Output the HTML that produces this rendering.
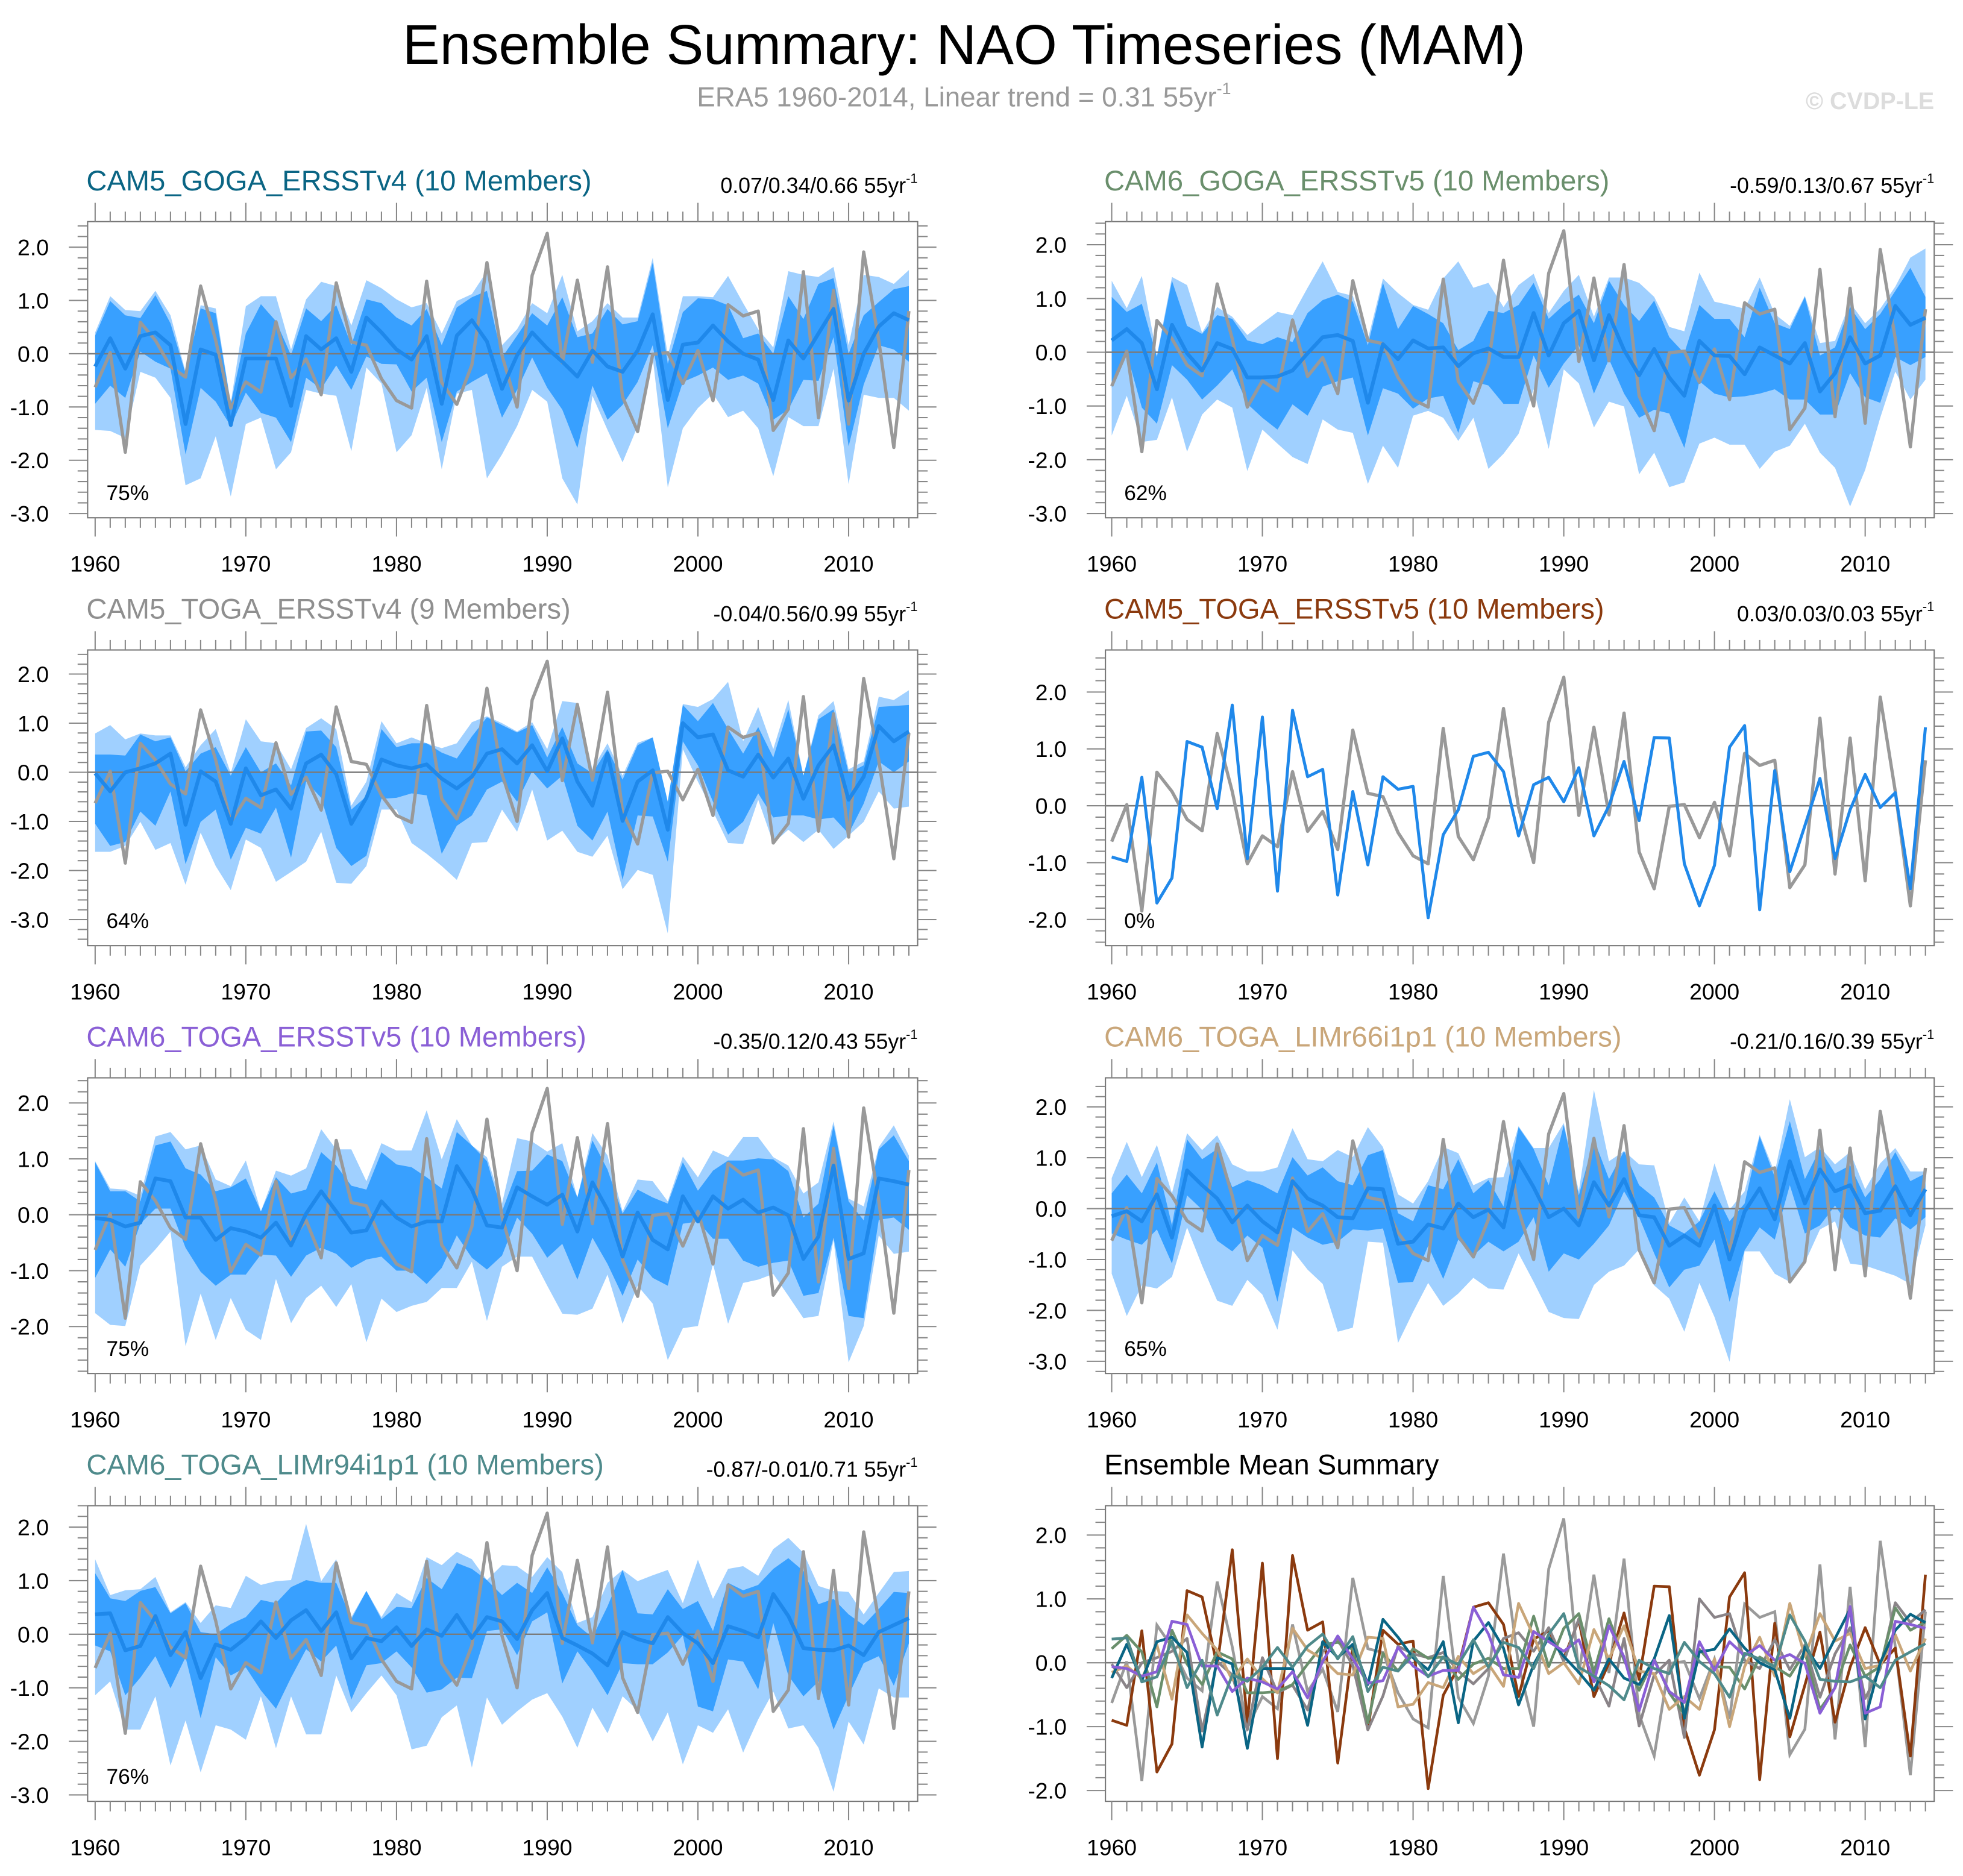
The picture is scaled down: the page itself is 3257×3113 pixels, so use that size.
<!DOCTYPE html>
<html><head><meta charset="utf-8">
<style>
html,body{margin:0;padding:0;background:#fff;}
svg{display:block;font-family:"Liberation Sans",Arial,sans-serif;}
</style></head>
<body>
<svg id="fig" xmlns="http://www.w3.org/2000/svg" width="3257" height="3113" viewBox="0 0 1568 1498.6">
<rect x="0" y="0" width="1568" height="1498.6" fill="#fff"/>
<text x="770" y="51" font-size="44.6" text-anchor="middle" fill="#000">Ensemble Summary: NAO Timeseries (MAM)</text>
<text x="770" y="85" font-size="22" text-anchor="middle" fill="#999">ERA5 1960-2014, Linear trend = 0.31 55yr<tspan dy="-10" font-size="13">-1</tspan></text>
<text x="1545" y="87" font-size="19" font-weight="bold" text-anchor="end" fill="#dcdcdc">© CVDP-LE</text>
</svg>
<script>
const years = []; for (let y = 1960; y <= 2014; y++) years.push(y);
const xTickLabels = ["1960","1970","1980","1990","2000","2010"];
const obs = [-0.63,0.02,-1.85,0.59,0.25,-0.24,-0.44,1.27,0.25,-1.02,-0.53,-0.72,0.6,-0.45,-0.1,-0.77,1.33,0.22,0.16,-0.47,-0.88,-1.02,1.36,-0.54,-0.95,-0.21,1.71,-0.03,-1.0,1.47,2.26,-0.17,1.38,-0.16,1.63,-0.81,-1.46,-0.01,0.02,-0.56,0.06,-0.88,0.92,0.71,0.8,-1.44,-1.04,1.54,-1.2,1.19,-1.32,1.91,0.25,-1.76,0.8];

const p1Lt = [0.4,1.08,0.82,0.8,1.18,0.72,-0.34,0.91,0.85,-0.92,0.89,1.08,1.08,0.08,1.02,1.35,1.27,0.53,1.38,1.23,1.02,0.87,0.95,0.38,0.99,1.12,1.55,0.16,0.46,0.95,0.76,1.48,0.42,0.61,0.95,0.68,0.68,1.8,-0.03,1.08,1.08,1.06,1.46,0.95,0.46,0.12,1.55,1.48,1.44,1.63,0.16,1.48,1.44,1.31,1.57];
const p1Dt = [0.34,0.99,0.72,0.67,1.1,0.57,-0.37,0.85,0.76,-0.94,0.38,0.93,0.61,-0.03,0.85,0.61,0.91,0.16,1.02,0.95,0.68,0.53,0.84,0.16,0.87,1.06,1.18,-0.07,0.34,0.76,0.53,1.06,0.31,0.38,0.84,0.55,0.61,1.71,-0.19,0.78,1.04,1.02,0.91,0.29,0.38,0,1.08,0.65,1.31,1.42,0,0.72,0.97,1.21,1.27];
const p1Mean = [-0.24,0.29,-0.28,0.33,0.4,0.16,-1.32,0.08,-0.02,-1.34,-0.09,-0.09,-0.09,-0.98,0.33,0.08,0.29,-0.34,0.68,0.4,0.08,-0.11,0.33,-0.94,0.34,0.63,0.23,-0.66,-0.03,0.4,0.1,-0.15,-0.43,0.06,-0.24,-0.34,0.06,0.74,-0.87,0.17,0.21,0.53,0.23,0,-0.11,-0.87,0.25,-0.09,0.38,0.84,-0.88,0,0.51,0.76,0.63];
const p1Db = [-0.94,-0.6,-0.83,0.04,-0.15,-0.28,-1.89,-0.64,-0.9,-1.36,-0.73,-1.11,-1.2,-1.66,-0.45,-0.66,-0.22,-0.68,-0.05,-0.19,-0.2,-0.71,-0.45,-1.66,-0.71,-0.53,-0.37,-1.2,-0.68,-0.07,-0.64,-1.05,-1.77,-0.6,-1.24,-0.96,-0.53,0.16,-1.4,-0.53,-0.41,-0.26,-0.49,-0.41,-0.56,-1.24,-1.05,-0.49,-0.51,0.31,-1.74,-0.58,0.16,0.08,-0.15];
const p1Lb = [-1.43,-1.45,-1.58,-0.34,-0.45,-0.83,-2.47,-2.34,-1.55,-2.68,-1.32,-1.2,-2.17,-1.85,-0.68,-0.75,-0.79,-1.83,-0.26,-0.56,-1.85,-1.53,-0.64,-2.17,-0.75,-0.68,-2.34,-1.89,-1.36,-0.68,-0.9,-2.34,-2.83,-0.79,-1.43,-2.04,-1.36,-0.07,-2.51,-1.4,-1.02,-0.75,-1.19,-1.07,-1.4,-2.3,-1.19,-1.36,-1.36,-0.28,-2.45,-0.77,-0.83,-0.83,-1.07];

const p2Lt = [1.33,0.82,1.42,-0.06,1.4,1.25,0.36,0.84,0.66,0.32,0.54,0.75,0.69,1.2,1.69,1.12,1.05,0.24,1.37,1.1,0.88,0.79,1.37,1.69,1.2,1.29,0.84,1.25,1.46,0.73,1.14,1.44,0.66,1.39,1.39,1.29,1.03,0.47,0.39,1.48,0.94,0.88,0.81,1.39,0.71,0.49,1.05,0.17,0.21,0.92,0.54,0.81,1.22,1.76,1.93];
const p2Dt = [1.03,0.75,0.9,-0.09,1.33,0.49,0.34,0.69,0.62,0.22,0.15,0.28,0.19,0.73,0.97,1.07,0.94,0.13,1.29,0.43,0.86,0.71,0.54,0.04,0.21,0.77,0.73,0.88,1.29,0.62,0.88,1.07,0.54,1.33,0.88,0.58,0.96,0.28,-0.02,0.88,0.62,0.62,0.28,1.2,0.54,0.43,1.03,-0.06,0.09,0.84,0.43,0.71,1.14,1.57,1.03];
const p2Mean = [0.22,0.43,0.17,-0.69,0.51,-0.02,-0.34,0.17,0.06,-0.47,-0.47,-0.45,-0.34,-0.02,0.28,0.32,0.21,-0.94,0.15,-0.13,0.22,0.07,0.09,-0.26,-0.02,0.07,-0.09,-0.09,0.73,-0.06,0.54,0.77,-0.15,0.69,0.04,-0.43,0.06,-0.47,-0.81,0.21,-0.06,-0.07,-0.41,0.09,-0.06,-0.21,0.17,-0.73,-0.39,0.28,-0.21,-0.06,0.86,0.51,0.64];
const p2Db = [-0.66,-0.02,-1.03,-1.33,-0.24,-0.51,-0.88,-0.62,-0.32,-0.96,-1.22,-1.44,-0.97,-1.18,-0.64,-0.54,-0.47,-1.55,-0.67,-0.77,-1.05,-0.86,-0.81,-1.5,-0.54,-0.62,-0.96,-0.96,-0.06,-0.66,-0.21,0.13,-0.77,-0.13,-0.77,-1.22,-1.07,-1.14,-1.78,-0.54,-0.77,-0.84,-0.82,-0.77,-0.69,-0.88,-0.88,-1.16,-1.16,-0.39,-0.84,-0.94,-0.09,-0.24,-0.09];
const p2Lb = [-1.55,-0.81,-1.67,-1.63,-0.84,-1.85,-1.16,-0.88,-1.03,-2.21,-1.44,-1.7,-1.95,-2.08,-1.25,-1.44,-1.5,-2.45,-1.74,-2.15,-1.18,-1.09,-1.22,-1.65,-1.22,-2.17,-1.89,-1.52,-0.69,-1.8,-0.32,-0.58,-1.4,-0.92,-1.01,-2.27,-1.87,-2.51,-2.42,-1.7,-1.59,-1.72,-1.72,-2.17,-1.85,-1.74,-1.33,-1.87,-2.15,-2.87,-2.19,-1.22,-0.36,-0.88,-0.51];

const p3Lt = [0.79,0.96,0.67,0.79,0.75,0.75,0.1,0.55,0.88,-0.02,1.08,0.63,0.59,0.06,0.9,1.1,0.88,-0.68,-0.19,1.04,0.59,0.71,0.59,0.49,0.59,1.02,1.14,1.0,0.83,1.02,0.47,1.45,1.41,0.06,0.59,-0.07,0.6,0.71,-0.6,1.39,1.33,1.49,1.84,0.63,1.33,0.47,1.47,-0.07,1.16,1.45,0.06,0.22,1.54,1.47,1.67];
const p3Dt = [0.36,0.36,0.34,0.77,0.63,0.71,0.02,0.38,0.51,-0.07,0.51,0,0.18,-0.27,0.83,0.85,0.51,-0.76,-0.49,0.88,0.51,0.59,0.59,0.4,0.28,0.73,1.12,0.96,0.81,0.96,0.3,0.92,0.18,-0.02,0.47,-0.15,0.55,0.71,-0.6,1.37,1.04,1.41,0.88,0.38,0.92,0.3,1.28,-0.07,1.08,1.28,-0.02,0.14,1.33,1.35,1.37];
const p3Mean = [-0.02,-0.39,0,0.08,0.18,0.38,-1.07,0.02,-0.19,-1.05,0.08,-0.47,-0.35,-0.74,0.18,0.36,-0.04,-1.05,-0.52,0.26,0.14,0.08,0.16,-0.13,-0.33,-0.09,0.38,0.47,0.18,0.55,0.02,0.69,-0.19,-0.68,0.38,-0.99,-0.19,0.04,-1.17,1.0,0.71,0.77,0.04,-0.09,0.36,-0.11,0.28,-0.54,0.14,0.55,-0.56,-0.09,0.94,0.63,0.83];
const p3Db = [-1.05,-1.5,-1.42,-0.8,-1.09,-0.39,-1.87,-1.01,-0.76,-1.78,-1.13,-1.25,-0.72,-1.74,-0.19,-0.52,-1.54,-1.91,-1.7,-0.54,-0.52,-0.43,-0.47,-1.66,-1.09,-0.88,-0.35,-0.19,-0.6,0.02,-0.33,-0.07,-1.09,-1.39,-0.8,-2.19,-0.88,-0.9,-1.82,0.63,0.14,-0.6,-1.27,-1.01,-0.43,-0.92,-0.88,-0.88,-0.96,-0.92,-1.25,-0.64,0.22,0,0.22];
const p3Lb = [-1.62,-1.62,-1.5,-1.01,-1.58,-1.44,-2.29,-1.23,-1.91,-2.4,-1.37,-1.54,-2.23,-2.03,-1.82,-1.21,-2.25,-2.27,-1.91,-0.76,-0.76,-1.44,-1.66,-1.91,-2.19,-1.44,-1.42,-0.76,-1.21,-0.35,-1.39,-1.19,-1.62,-1.72,-1.29,-2.38,-1.99,-2.09,-3.28,0.47,-0.19,-0.8,-1.44,-1.46,-0.56,-1.44,-1.17,-1.42,-1.17,-1.56,-1.29,-1.01,-0.39,-0.74,-0.7];

const p4Mean = [-0.9,-0.98,0.5,-1.71,-1.27,1.13,1.03,-0.05,1.77,-0.93,1.56,-1.5,1.68,0.51,0.64,-1.57,0.25,-1.04,0.51,0.29,0.34,-1.97,-0.51,-0.07,0.87,0.94,0.6,-0.53,0.37,0.5,0.07,0.67,-0.53,0,0.78,-0.26,1.2,1.19,-1.02,-1.76,-1.05,1.03,1.41,-1.83,0.62,-1.16,-0.35,0.48,-0.93,-0.07,0.55,-0.03,0.23,-1.46,1.38];

const p5Lt = [0.96,0.47,0.45,0.34,1.4,1.48,1.17,1.24,0.63,0.51,0.97,0.06,0.79,0.7,0.83,1.53,1.17,1.17,0.6,1.28,1.15,1.15,1.87,0.99,1.71,1.24,1.03,0.2,1.37,1.31,1.13,1.28,0.31,1.46,1.06,0.06,0.63,0.6,0.24,1.04,0.67,1.15,1.03,1.39,1.39,1.03,0.88,0.38,0.58,1.67,0.29,0.15,1.21,1.6,1.06];
const p5Dt = [0.94,0.42,0.42,0.24,1.24,1.31,0.83,0.72,0.42,0.49,0.65,0.06,0.67,0.38,0.45,1.12,0.88,0.52,0.45,1.12,0.9,0.85,0.67,0.47,1.48,1.24,0.96,0.06,0.78,0.79,1.08,0.96,0.31,1.33,0.81,0.02,0.45,0.31,0.2,0.94,0.43,0.79,0.97,0.97,1.01,0.99,0.78,-0.05,0.2,1.6,0.24,-0.1,1.17,1.42,0.96];
const p5Mean = [-0.06,-0.09,-0.21,-0.14,0.65,0.6,-0.05,-0.05,-0.45,-0.24,-0.3,-0.41,-0.14,-0.55,0.02,0.42,0.06,-0.32,-0.28,0.24,-0.05,-0.21,-0.12,-0.12,0.87,0.45,-0.19,-0.23,0.49,0.33,0.18,0.36,-0.3,0.58,0.09,-0.75,0.04,-0.45,-0.62,0.33,-0.12,0.33,0.11,0.27,0.04,0.13,-0.01,-0.79,-0.39,0.88,-0.79,-0.69,0.65,0.6,0.54];
const p5Db = [-1.13,-0.62,-0.93,-0.16,0.11,0.11,-0.59,-1.02,-1.27,-1.07,-1.07,-0.71,-0.73,-1.11,-0.73,-0.59,-0.7,-0.95,-0.8,-0.75,-1.0,-1.0,-1.24,-0.95,-0.37,-0.77,-0.98,-0.73,-0.05,-0.34,-0.77,-0.52,-1.16,-0.41,-0.88,-1.45,-0.8,-1.13,-1.27,-0.16,-0.12,-0.43,-0.43,-0.82,-0.93,-0.86,-0.82,-1.45,-1.4,-0.41,-1.81,-1.85,-0.09,-0.05,-0.27];
const p5Lb = [-1.76,-1.97,-1.99,-0.91,-0.62,-0.3,-2.35,-1.41,-2.24,-1.49,-2.06,-2.24,-1.15,-1.94,-1.49,-1.27,-1.65,-1.24,-2.28,-1.5,-1.74,-1.63,-1.56,-1.31,-1.31,-0.84,-1.9,-0.93,-0.75,-0.75,-1.27,-1.77,-1.79,-1.68,-1.07,-1.95,-1.27,-1.59,-2.6,-2.03,-1.99,-0.88,-1.95,-1.22,-1.16,-1.06,-1.45,-1.85,-1.81,-0.45,-2.64,-1.99,-0.37,-0.7,-0.66];

const p6Lt = [0.6,1.31,0.62,1.25,0.3,1.48,1.15,1.44,0.87,0.73,0.73,0.81,1.58,0.97,0.93,1.15,1.01,1.6,1.21,0.28,0.1,0.54,1.21,1.09,0.46,0.6,0.62,1.62,1.19,1.19,1.68,0.34,2.33,0.93,1.13,0.87,0.85,-0.29,0.22,-0.25,0.89,-0.02,0.34,1.45,0.71,2.15,1.01,1.21,0.87,1.11,0.38,0.89,1.19,0.73,0.73];
const p6Dt = [0.3,0.67,0.3,0.91,-0.33,1.36,0.97,1.17,0.42,0.56,0.46,0.3,1.01,0.65,0.81,0.54,0.46,1.05,1.15,-0.09,-0.25,0.46,0.38,0.97,0.3,0.56,0.04,1.6,1.17,0.46,1.64,0.26,1.36,0.58,1.13,0.46,0.22,-0.33,-0.49,-0.25,0.34,-0.25,0.1,1.42,0.62,1.72,0.58,1.17,0.69,0.85,0.22,0.58,1.11,0.54,0.69];
const p6Mean = [-0.15,-0.05,-0.25,0.28,-0.57,0.75,0.46,0.2,-0.27,0.06,-0.25,-0.47,0.54,0.2,0.06,-0.17,-0.19,0.4,0.38,-0.69,-0.65,-0.31,-0.39,0.1,-0.17,-0.02,-0.37,0.93,0.42,-0.17,0,-0.33,0.52,0.06,0.58,-0.13,-0.17,-0.73,-0.53,-0.73,0.06,-1.0,-0.06,0.4,-0.21,0.93,0.1,0.77,0.34,0.46,-0.09,-0.04,0.44,-0.13,0.38];
const p6Db = [-0.49,-0.61,-0.71,-0.41,-1.08,0.26,-0.02,-0.63,-0.84,-0.53,-0.77,-1.83,-0.37,-0.57,-0.71,-0.65,-0.41,-0.43,-0.39,-1.46,-1.44,-0.73,-1.38,-0.61,-0.92,-0.65,-0.84,-0.65,-0.17,-1.24,-0.88,-1.0,-0.69,-0.33,0.34,-0.17,-0.88,-1.55,-1.2,-1.12,-0.61,-1.83,-0.82,-0.37,-0.61,0.46,-0.49,-0.33,0.06,-0.37,-0.53,-0.57,-0.19,-0.41,-0.17];
const p6Lb = [-1.28,-2.11,-1.51,-1.57,-1.34,-0.37,-1.12,-1.81,-1.91,-1.4,-1.69,-2.38,-0.82,-1.2,-1.48,-2.42,-2.34,-0.65,-0.67,-2.64,-2.03,-1.46,-1.91,-1.67,-1.36,-1.57,-1.59,-0.88,-1.44,-2.03,-2.15,-2.17,-1.5,-1.24,-1.12,-0.8,-1.51,-1.77,-2.42,-1.46,-2.13,-3.01,-0.84,-0.84,-1.28,-1.44,-1.06,-0.41,-0.25,-1.08,-1.12,-1.22,-1.32,-1.48,-0.33];

const p7Lt = [1.4,0.73,0.82,0.84,1.07,0.41,0.6,0.21,0.54,0.49,1.09,0.92,0.99,1.01,2.06,0.99,1.4,0.32,0.81,0.32,0.77,0.6,1.44,1.29,1.54,1.4,1.01,1.29,1.27,1.07,1.44,1.16,0.21,0.32,0.96,1.2,0.99,1.1,1.2,0.58,1.39,0.66,1.22,1.27,1.09,1.59,1.8,1.52,0.9,0.81,0.79,0.37,0.77,1.16,1.18];
const p7Dt = [1.14,0.67,0.62,0.81,0.88,0.39,0.58,0.04,0,0.19,0.32,0.64,0.58,0.88,1.01,0.96,0.96,0.28,0.81,0.28,0.51,0.49,1.05,0.84,1.33,1.22,1.01,0.73,0.96,0.77,1.25,0.77,0.17,-0.06,0.52,1.2,0.39,0.37,0.84,0.47,0.62,0.06,0.96,0.82,0.92,1.22,1.42,1.18,0.56,0.66,0.37,0.17,0.47,0.79,0.77];
const p7Mean = [0.37,0.39,-0.3,-0.22,0.34,-0.39,0.04,-0.82,-0.19,-0.29,-0.07,0.24,-0.07,0.26,0.45,0.06,0.41,-0.45,-0.07,-0.13,0.13,-0.22,0.09,-0.03,0.36,-0.07,0.32,0.24,-0.09,0.45,0.77,-0.07,-0.21,-0.36,-0.58,0.04,-0.09,-0.17,0.32,0.02,-0.17,-0.54,0.15,0.06,-0.06,0.75,0.34,-0.26,-0.29,-0.3,-0.21,-0.39,0.04,0.17,0.3];
const p7Db = [-0.21,-0.32,-1.14,-0.81,-0.41,-1.01,-0.43,-1.57,-0.43,-0.77,-0.62,-1.05,-1.39,-0.81,-0.28,-0.51,-0.21,-1.22,-0.58,-0.54,-0.32,-0.62,-1.09,-1.03,-0.81,-0.82,0.06,0.09,-0.39,0.24,0.41,-0.92,-0.32,-0.69,-1.14,-0.54,-0.56,-0.56,-0.34,-0.02,-1.35,-1.44,-0.47,-0.51,-1.03,0.21,-0.77,-1.16,-0.88,-1.78,-1.14,-0.54,-0.41,-0.96,-0.17];
const p7Lb = [-1.14,-0.88,-1.78,-1.78,-1.16,-2.45,-1.61,-2.58,-1.7,-1.78,-1.97,-1.16,-2.13,-1.16,-1.87,-1.87,-0.77,-1.46,-1.1,-0.77,-1.14,-2.15,-2.08,-1.55,-1.33,-2.49,-1.18,-1.69,-1.44,-1.22,-1.1,-1.54,-2.12,-1.37,-1.85,-1.16,-1.42,-2.0,-1.46,-2.43,-1.7,-1.84,-1.4,-2.21,-1.59,-1.07,-1.76,-1.7,-2.12,-2.94,-1.63,-2.06,-1.01,-1.18,-1.18];

const panelTitles = ["CAM5_GOGA_ERSSTv4 (10 Members)","CAM6_GOGA_ERSSTv5 (10 Members)","CAM5_TOGA_ERSSTv4 (9 Members)","CAM5_TOGA_ERSSTv5 (10 Members)","CAM6_TOGA_ERSSTv5 (10 Members)","CAM6_TOGA_LIMr66i1p1 (10 Members)","CAM6_TOGA_LIMr94i1p1 (10 Members)","Ensemble Mean Summary"];
const panelColors = ["#0a6584","#6a8f6c","#8f8f8f","#8b3a0e","#8a5fd6","#c9a679","#4e8a8b","#000000"];
const trendLabels = ["0.07/0.34/0.66","-0.59/0.13/0.67","-0.04/0.56/0.99","0.03/0.03/0.03","-0.35/0.12/0.43","-0.21/0.16/0.39","-0.87/-0.01/0.71",""];
const pctLabels = ["75%","62%","64%","0%","75%","65%","76%",""];
const yTickLabels = [
 ["2.0","1.0","0.0","-1.0","-2.0","-3.0"],["2.0","1.0","0.0","-1.0","-2.0","-3.0"],
 ["2.0","1.0","0.0","-1.0","-2.0","-3.0"],["2.0","1.0","0.0","-1.0","-2.0"],
 ["2.0","1.0","0.0","-1.0","-2.0"],["2.0","1.0","0.0","-1.0","-2.0","-3.0"],
 ["2.0","1.0","0.0","-1.0","-2.0","-3.0"],["2.0","1.0","0.0","-1.0","-2.0"]];
const yMax = [2.48,2.43,2.49,2.74,2.45,2.57,2.4,2.46];
const yMin = [-3.08,-3.08,-3.53,-2.46,-2.84,-3.24,-3.12,-2.17];

const NS = "http://www.w3.org/2000/svg";
const svg = document.getElementById("fig");
const cols = [{x0:70,x1:733,t0:76,t1:726},{x0:883,x1:1545,t0:888,t1:1538}];
const rows = [[177,413.6],[519.2,755.4],[861,1097.2],[1202.8,1439]];
function mk(tag, attrs, parent){const e=document.createElementNS(NS,tag);for(const k in attrs)e.setAttribute(k,attrs[k]);(parent||svg).appendChild(e);return e;}

const bands = [
 [p1Lt,p1Dt,p1Mean,p1Db,p1Lb],[p2Lt,p2Dt,p2Mean,p2Db,p2Lb],[p3Lt,p3Dt,p3Mean,p3Db,p3Lb],
 [null,null,p4Mean,null,null],[p5Lt,p5Dt,p5Mean,p5Db,p5Lb],[p6Lt,p6Dt,p6Mean,p6Db,p6Lb],[p7Lt,p7Dt,p7Mean,p7Db,p7Lb]];

for (let p = 0; p < 8; p++) {
  const c = cols[p % 2], r = rows[Math.floor(p / 2)];
  const x0=c.x0,x1=c.x1,y0=r[0],y1=r[1];
  const xs = yr => c.t0 + (yr - 1960) * (c.t1 - c.t0) / 54;
  const ys = v => y0 + (yMax[p] - v) * (y1 - y0) / (yMax[p] - yMin[p]);
  const g = mk("g", {});
  
  
  const clipId = "clip" + p;
  const cp = mk("clipPath", {id: clipId}, g);
  mk("rect", {x:x0,y:y0,width:x1-x0,height:y1-y0}, cp);
  const plot = mk("g", {"clip-path":"url(#"+clipId+")"}, g);
  const line = arr => arr.map((v,i)=>xs(years[i]).toFixed(2)+","+ys(v).toFixed(2)).join(" ");
  const poly = (top, bot) => top.map((v,i)=>xs(years[i]).toFixed(2)+","+ys(v).toFixed(2)).concat(bot.map((v,i)=>[i,v]).reverse().map(([i,v])=>xs(years[i]).toFixed(2)+","+ys(v).toFixed(2))).join(" ");
  if (p < 7) {
    const b = bands[p];
    if (b[0]) {
      const l = mk("polygon", {points: poly(b[0], b[4]), fill: "#a0d0ff"}, plot);
      
      
      const d = mk("polygon", {points: poly(b[1], b[3]), fill: "#38a0ff"}, plot);
      
      
    }
    const z = mk("line", {x1:x0,x2:x1,y1:ys(0),y2:ys(0),stroke:"#7a7a7a","stroke-width":1.2}, plot);
    
    
    const o = mk("polyline", {points: line(obs), fill:"none", stroke:"#999999","stroke-width":2.6,"stroke-linejoin":"round"}, plot);
    
    
    const m = mk("polyline", {points: line(b[2]), fill:"none", stroke:"#1f88ea","stroke-width":p===3?2.4:3,"stroke-linejoin":"round"}, plot);
    
    
  } else {
    const z = mk("line", {x1:x0,x2:x1,y1:ys(0),y2:ys(0),stroke:"#7a7a7a","stroke-width":1.2}, plot);
    
    
    const o = mk("polyline", {points: line(obs), fill:"none", stroke:"#9a9a9a","stroke-width":2.2}, plot);
    
    
    const order = [3,2,1,5,0,4,6];
    const sumColors = ["#0a6584","#6a8f6c","#8a8488","#8b3a0e","#8a5fd6","#c9a679","#4e8a8b"];
    for (const k of order) {
      const s = mk("polyline", {points: line(bands[k][2]), fill:"none", stroke: sumColors[k], "stroke-width":2.2,"stroke-linejoin":"round"}, plot);
      
      
    }
  }
  const frame = mk("rect", {x:x0,y:y0,width:x1-x0,height:y1-y0,fill:"none",stroke:"#777","stroke-width":1}, g);
  
  
  const start = Math.ceil(yMin[p] * 5), end = Math.floor(yMax[p] * 5);
  for (let t = start; t <= end; t++) {
    const v = t / 5, yy = ys(v), major = (t % 5 === 0);
    const len = major ? 15 : 8;
    mk("line", {x1:x0-len,x2:x0,y1:yy,y2:yy,stroke:"#888","stroke-width":1}, g);
    mk("line", {x1:x1,x2:x1+len,y1:yy,y2:yy,stroke:"#888","stroke-width":1}, g);
  }
  yTickLabels[p].forEach(s => {
    const tl = mk("text", {x:x0-31,y:ys(parseFloat(s))+6.5,"font-size":18,"text-anchor":"end",fill:"#000"}, g);
    tl.textContent = s;
    
    
  });
  years.forEach(yr => {
    const xx = xs(yr), major = (yr % 10 === 0), len = major ? 15 : 8;
    mk("line", {x1:xx,x2:xx,y1:y1,y2:y1+len,stroke:"#888","stroke-width":1}, g);
    mk("line", {x1:xx,x2:xx,y1:y0-len,y2:y0,stroke:"#888","stroke-width":1}, g);
  });
  xTickLabels.forEach(s => {
    const tl = mk("text", {x:xs(parseInt(s)),y:y1+43,"font-size":18,"text-anchor":"middle",fill:"#000"}, g);
    tl.textContent = s;
    
    
  });
  const tt = mk("text", {x:x0-1,y:y0-25,"font-size":22.7,fill:panelColors[p]}, g);
  tt.textContent = panelTitles[p];
  
  
  if (trendLabels[p]) {
    const tr = mk("text", {x:x1,y:y0-23,"font-size":17.2,"text-anchor":"end",fill:"#000"}, g);
    
    
    tr.appendChild(document.createTextNode(trendLabels[p] + " 55yr"));
    const sup = mk("tspan", {dy:-8,"font-size":10.5}, tr);
    sup.textContent = "-1";
    const pc = mk("text", {x:x0+15,y:y1-14,"font-size":17,fill:"#000"}, g);
    pc.textContent = pctLabels[p];
    
    
  }
}
</script>
</body></html>
